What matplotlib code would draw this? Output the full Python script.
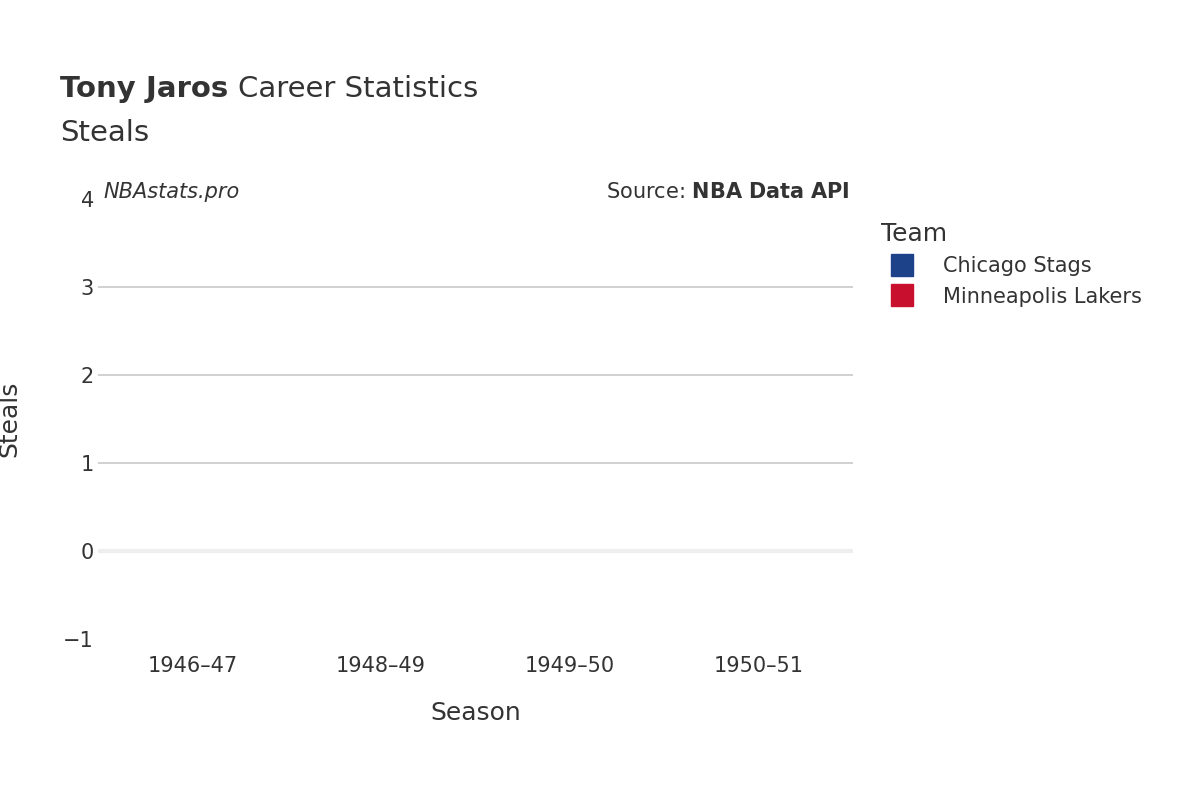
import matplotlib.pyplot as plt
from matplotlib.lines import Line2D

seasons = ['1946–47', '1948–49', '1949–50', '1950–51']
teams = ['Chicago Stags', 'Minneapolis Lakers']
team_colors = ['#1d428a', '#c8102e']
# steals were not recorded in these seasons, so every bar is zero
chicago_steals = [0, 0, 0, 0]
lakers_steals = [0, 0, 0, 0]
y_ticks = [-1, 0, 1, 2, 3, 4]

plt.rcParams['font.family'] = 'DejaVu Sans'
txt = '#333333'

fig = plt.figure(figsize=(12, 8), dpi=100)
ax = fig.add_axes([98 / 1200, 1 - 639 / 800, (853 - 98) / 1200, 440 / 800])

x = range(len(seasons))
ax.bar([i - 0.2 for i in x], chicago_steals, width=0.4, color=team_colors[0])
ax.bar([i + 0.2 for i in x], lakers_steals, width=0.4, color=team_colors[1])

ax.set_xlim(-0.5, 3.5)
ax.set_ylim(-1, 4)
ax.set_xticks(list(x))
ax.set_xticklabels(seasons)
ax.set_yticks(y_ticks)
for v in [1, 2, 3]:
    ax.axhline(v, color='#c8c8c8', lw=1.2, zorder=0)
ax.axhline(0, color='#eeeeee', lw=3, zorder=0)
for s in ax.spines.values():
    s.set_visible(False)
ax.tick_params(length=0, labelsize=15, colors=txt)
ax.tick_params(axis='x', pad=12)
ax.tick_params(axis='y', pad=3)
ax.set_xlabel('Season', fontsize=18, color=txt, labelpad=18)
ax.set_ylabel('Steals', fontsize=18, color=txt, labelpad=30)

t1 = fig.text(60 / 1200, 1 - 89 / 800, 'Tony Jaros', fontsize=21, weight='bold', color=txt, va='center')
fig.canvas.draw()
fig.text(0, 0, ' Career Statistics', fontsize=21, color=txt, va='center',
         transform=t1.get_transform() + __import__('matplotlib').transforms.Affine2D().translate(
             t1.get_window_extent().width, 0) if False else None) if False else None
ext = t1.get_window_extent()
fig.text(ext.x1 / 1200 + 0.008, 1 - 89 / 800, 'Career Statistics', fontsize=21, color=txt, va='center')
fig.text(60 / 1200, 1 - 133 / 800, 'Steals', fontsize=21, color=txt, va='center')
fig.text(103 / 1200, 1 - 192 / 800, 'NBAstats.pro', fontsize=15, style='italic', color=txt, va='center')
fig.text(850 / 1200, 1 - 192 / 800, r'Source: $\bf{NBA\ Data\ API}$', fontsize=15, color=txt,
         va='center', ha='right')

handles = [Line2D([], [], marker='s', linestyle='none', markersize=16, color=c) for c in team_colors]
leg = fig.legend(handles, teams, loc='upper left', bbox_to_anchor=(862 / 1200, 1 - 203 / 800),
                 frameon=False, title='Team', fontsize=15, title_fontsize=18,
                 labelcolor=txt, handletextpad=1.0, labelspacing=0.5)
leg.get_title().set_color(txt)
leg._legend_box.align = 'left'

fig.savefig('out.png', dpi=100)
